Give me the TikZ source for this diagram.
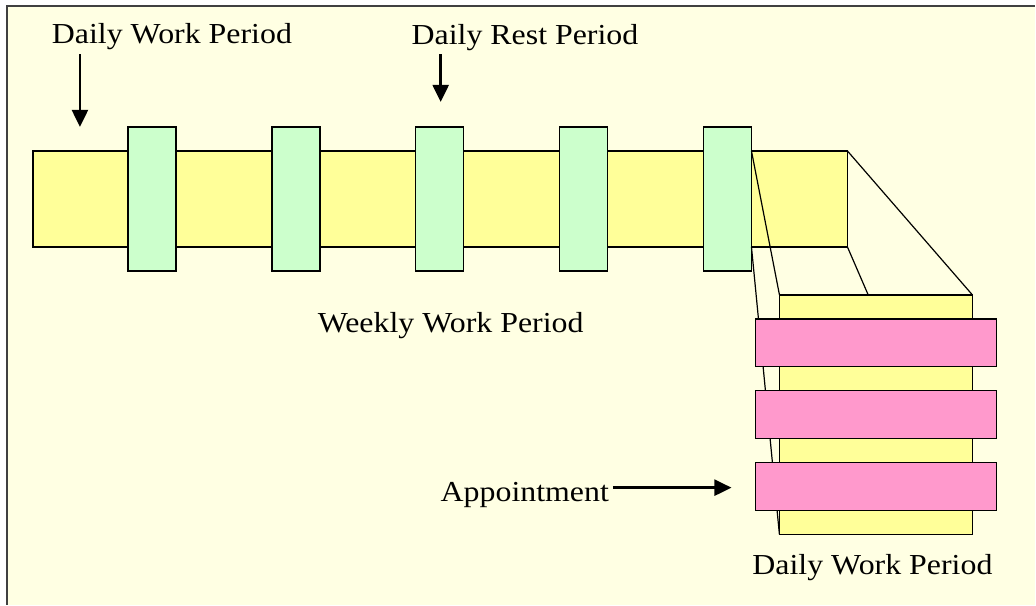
\documentclass[tikz,border=0pt]{standalone}
\usepackage{fontspec}
\setmainfont{Liberation Serif}[FakeStretch=1.10]
\usetikzlibrary{arrows.meta,calc}

\definecolor{paper}{HTML}{FFFFE3}
\definecolor{frameline}{HTML}{404040}
\definecolor{workfill}{HTML}{FFFF99}
\definecolor{restfill}{HTML}{CCFFCC}
\definecolor{apptfill}{HTML}{FF99CC}

\tikzset{
  box/.style={draw=black, line width=1.5pt, inner sep=0pt, outer sep=0pt, anchor=north west},
  workbox/.style={box, fill=workfill},
  restbox/.style={box, fill=restfill, minimum width=48pt, minimum height=144pt},
  apptbox/.style={box, fill=apptfill, minimum width=241pt, minimum height=48pt},
  lbl/.style={inner sep=0pt, outer sep=0pt, anchor=base west, font=\fontsize{29pt}{31pt}\selectfont},
  pointer/.style={line width=2.4pt, -{Triangle[width=16pt,length=17pt]}},
  zoomline/.style={line width=1.2pt, black},
}

\begin{document}
\begin{tikzpicture}[x=1pt, y=-1pt]
  % page and frame
  \fill[white] (0,0) rectangle (1036,605);
  \fill[paper] (7,6) rectangle (1036,605);
  \draw[frameline, line width=1.5pt] (7,605) -- (7,6) -- (1036,6);
  \useasboundingbox (0,0) rectangle (1036,605);

  % weekly work period bar with daily rest periods
  \node[workbox, minimum width=815pt, minimum height=96pt] (week) at (33,151) {};
  \foreach \i in {1,...,5}{
    \node[restbox] (rest\i) at ({128+144*(\i-1)},127) {};
  }

  % expanded view of one daily work period
  \node[workbox, minimum width=193pt, minimum height=240pt] (day) at (780,295) {};
  \draw[zoomline] (rest5.east |- week.north) -- (day.north west);
  \draw[zoomline] (week.north east) -- (day.north east);
  \draw[zoomline] (week.south east) -- ($(day.north west)!0.46!(day.north east)$);
  \draw[zoomline] (rest5.east |- week.south) -- (day.south west);

  \node[apptbox] (appt1) at (756,319) {};
  \node[apptbox] (appt2) at (756,391) {};
  \node[apptbox] (appt3) at (756,463) {};

  % labels
  \node[lbl] (dwp) at (52,44) {Daily Work Period};
  \node[lbl] (drp) at (412,45) {Daily Rest Period};
  \node[lbl] (wwp) at (318,333) {Weekly Work Period};
  \node[lbl] (apl) at (441,502) {Appointment};
  \node[lbl] (dwp2) at (753,575) {Daily Work Period};

  % pointers
  \coordinate (dwptip) at (80,127);
  \coordinate (drptip) at (441,102);
  \coordinate (apltip) at (732,488);
  \draw[pointer] (dwp.south -| dwptip) ++(0,4) -- (dwptip);
  \draw[pointer] (drp.south -| drptip) ++(0,3) -- (drptip);
  \draw[pointer, shorten <=4pt] (apl.east |- apltip) -- (apltip);
\end{tikzpicture}
\end{document}
